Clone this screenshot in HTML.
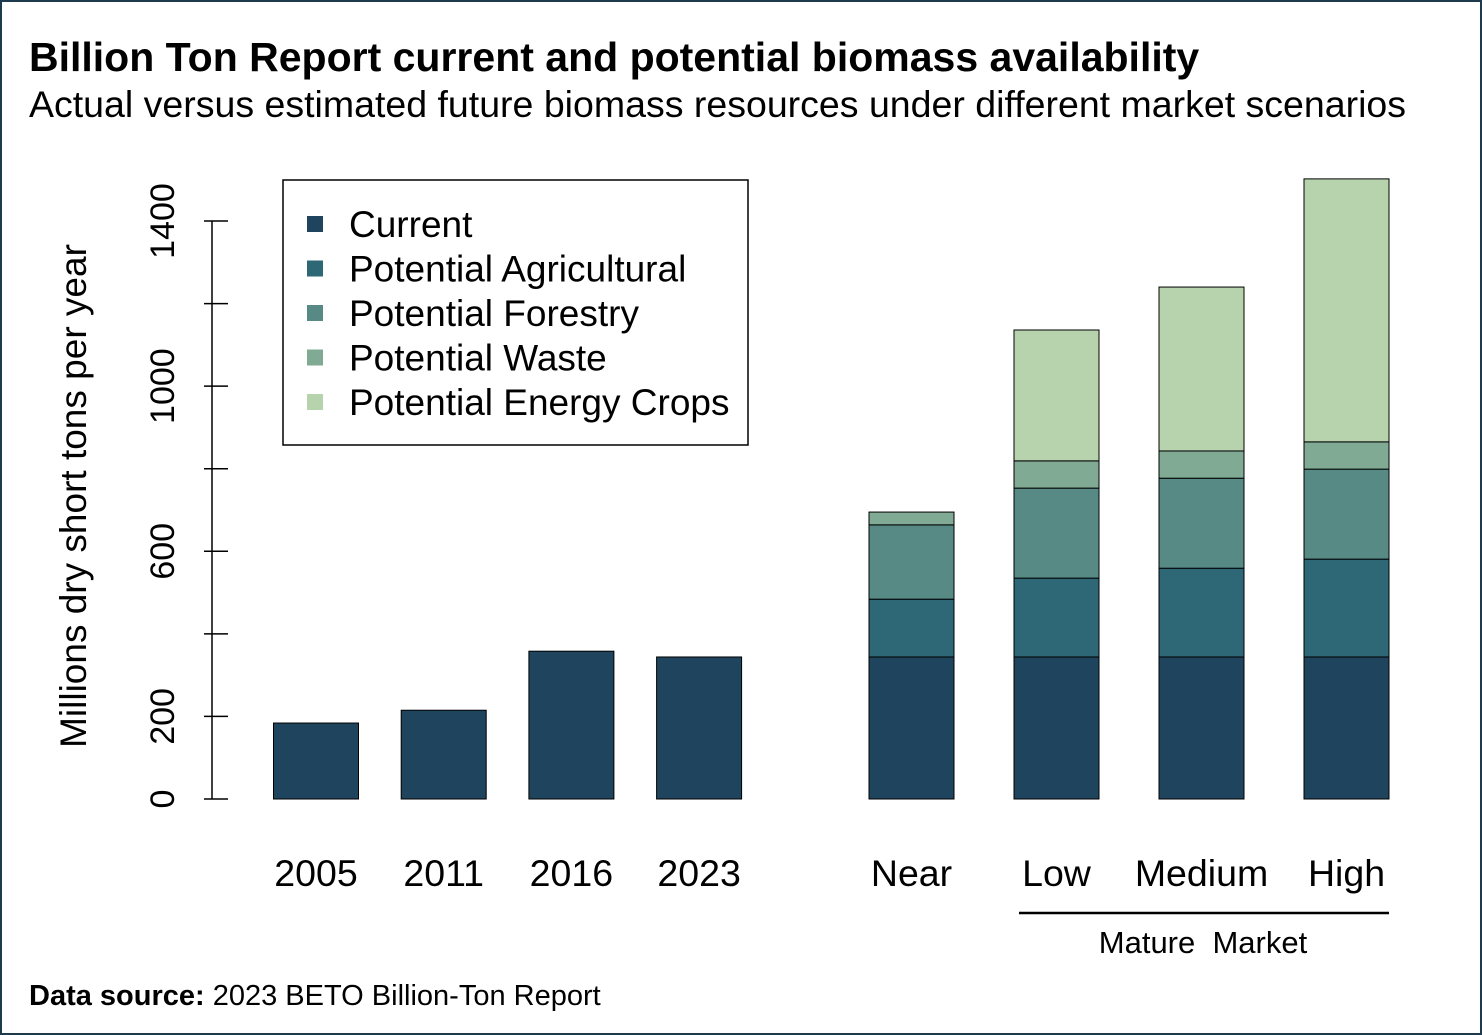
<!DOCTYPE html>
<html><head><meta charset="utf-8"><style>
html,body{margin:0;padding:0;background:#fff}
#wrap{position:relative;width:1478px;height:1031px;border:2px solid #1d3a4f;background:#fff;font-family:"Liberation Sans",sans-serif;overflow:hidden}
.t{position:absolute;white-space:nowrap;color:#000}
</style></head><body>
<div id="wrap">
<div class="t" style="left:27px;top:32px;font-size:41px;font-weight:bold">Billion Ton Report current and potential biomass availability</div>
<div class="t" style="left:27px;top:81px;font-size:37.5px">Actual versus estimated future biomass resources under different market scenarios</div>
<div class="t" style="left:27px;top:978px;font-size:29px"><b>Data source:</b> 2023 BETO Billion-Ton Report</div>
<svg id="chart" width="1482" height="1035" style="position:absolute;left:-2px;top:-2px" font-family="Liberation Sans, sans-serif"></svg>
</div>
<script>
const histCats=["2005","2011","2016","2023"];
const histVals=[184,215,358,344];
const scenCats=["Near","Low","Medium","High"];
const seriesNames=["Current","Potential Agricultural","Potential Forestry","Potential Waste","Potential Energy Crops"];
const scenCurrent=[344,344,344,344];
const scenAgri=[140,191,215,237];
const scenForest=[180,218,218,218];
const scenWaste=[31,66,66,66];
const scenEnergy=[0,317,397,637];
const yTicks=[0,200,400,600,800,1000,1200,1400];
const yTickLabels=["0","200","","600","","1000","","1400"];
const colors=["#1e455d","#2e6776","#578a84","#80aa94","#b7d3ad"];
const NS="http://www.w3.org/2000/svg";
const svg=document.getElementById('chart');
function mk(tag,attrs,parent){const e=document.createElementNS(NS,tag);for(const k in attrs)e.setAttribute(k,attrs[k]);(parent||svg).appendChild(e);return e;}
const y=v=>799-v*0.41286;
const xHist=i=>316+i*127.7;
const xScen=i=>911.5+i*145;
const bw=85;
const ax=mk('line',{x1:212,x2:212,y1:y(0),y2:y(1400),stroke:'#000','stroke-width':1.5});


yTicks.forEach((t,i)=>{
  const l=mk('line',{x1:204,x2:228,y1:y(t),y2:y(t),stroke:'#000','stroke-width':1.5});
  
  
  if(yTickLabels[i]){
    const tx=mk('text',{x:174,y:y(t),'font-size':34,'text-anchor':'middle',transform:`rotate(-90 174 ${y(t)})`});
    tx.textContent=yTickLabels[i];
    
    
  }
});
const yt=mk('text',{x:86,y:496,'font-size':37,'text-anchor':'middle',transform:'rotate(-90 86 496)'});
yt.textContent='Millions dry short tons per year';


histCats.forEach((c,i)=>{
  const r=mk('rect',{x:xHist(i)-bw/2,y:y(histVals[i]),width:bw,height:y(0)-y(histVals[i]),fill:colors[0],stroke:'#000','stroke-width':1});
  
  
  const t=mk('text',{x:xHist(i),y:886,'font-size':37.5,'text-anchor':'middle'});
  t.textContent=c;
  
  
});
const stacks=[scenCurrent,scenAgri,scenForest,scenWaste,scenEnergy];
scenCats.forEach((c,i)=>{
  let base=0;
  stacks.forEach((s,k)=>{
    const v=s[i]; if(!v){return;}
    const r=mk('rect',{x:xScen(i)-bw/2,y:y(base+v),width:bw,height:y(base)-y(base+v),fill:colors[k],stroke:'#000','stroke-width':1});
    
    
    base+=v;
  });
  const t=mk('text',{x:xScen(i),y:886,'font-size':37.5,'text-anchor':'middle'});
  t.textContent=c;
  
  
});
const ml=mk('line',{x1:1019,x2:1389,y1:913,y2:913,stroke:'#000','stroke-width':2.5});


const mt=mk('text',{x:1203,y:953,'font-size':31,'text-anchor':'middle'});
mt.textContent='Mature\u00a0 Market';


const lg=mk('rect',{x:283,y:180,width:465,height:265,fill:'#fff',stroke:'#000','stroke-width':1.5});


seriesNames.forEach((n,k)=>{
  const cy=224+k*44.5;
  const sw=mk('rect',{x:307,y:cy-8,width:16,height:16,fill:colors[k]});
  
  
  const t=mk('text',{x:349,y:cy+13,'font-size':37});
  t.textContent=n;
  
  
});
</script>
</body></html>
